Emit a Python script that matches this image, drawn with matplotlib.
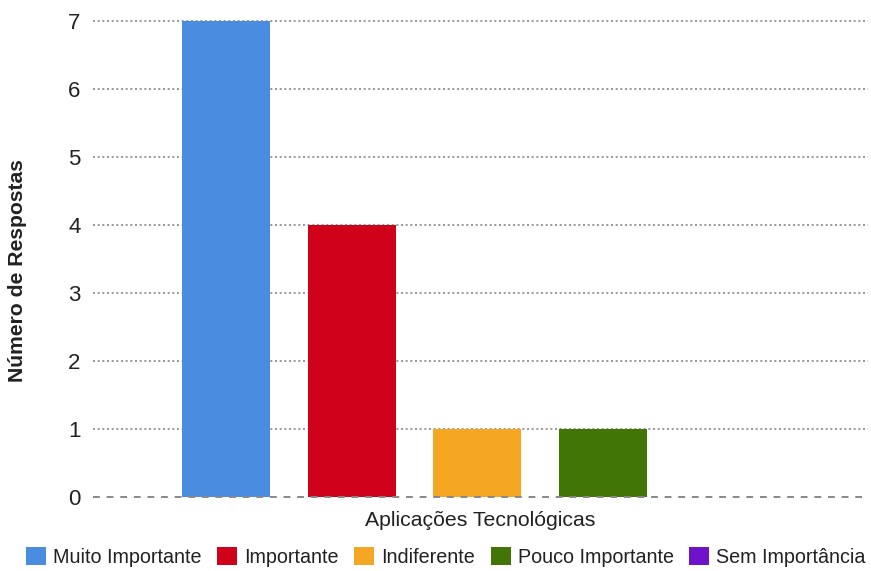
import matplotlib.pyplot as plt
from matplotlib.patches import Patch

plt.rcParams['font.family'] = ['Liberation Sans', 'DejaVu Sans']

categorias = ["Muito Importante", "Importante", "Indiferente", "Pouco Importante", "Sem Importância"]
respostas = [7, 4, 1, 1, 0]
cores = ["#4A8DE0", "#D0021B", "#F5A623", "#417505", "#6F12CC"]
yticks = [0, 1, 2, 3, 4, 5, 6, 7]

fig = plt.figure(figsize=(8.71, 5.71), dpi=100)
ax = fig.add_axes([93 / 871, 1 - 497 / 571, 775 / 871, 476 / 571])

pos = list(range(len(categorias)))
ax.bar(pos, respostas, width=0.70, color=cores, zorder=2)

# grid lines behind bars, dashed baseline on top
for v in yticks[1:]:
    ax.axhline(v, color="#888888", lw=1.2, ls=(0, (1.2, 1.6)), zorder=1, clip_on=False)
ax.axhline(0, color="#888888", lw=1.4, ls=(0, (3.5, 3.5)), zorder=3, clip_on=False)

ax.set_xlim(-1.058, 5.107)
ax.set_ylim(0, 7)
ax.set_yticks(yticks)
ax.set_xticks([])
ax.tick_params(axis="y", length=0, labelsize=16, pad=9, labelcolor="#222222")
for s in ax.spines.values():
    s.set_visible(False)

ax.set_ylabel("Número de Respostas", fontsize=15.2, fontweight="bold", color="#222222")
ax.yaxis.set_label_coords(-0.085, 0.475)
ax.set_xlabel("Aplicações Tecnológicas", fontsize=15.3, labelpad=10, color="#222222")

handles = [Patch(facecolor=c, edgecolor="none") for c in cores]
fig.legend(handles, categorias, loc="center", bbox_to_anchor=(0.512, 1 - 557 / 571), ncol=5,
           frameon=False, fontsize=14.2, handlelength=1.0, handleheight=1.0,
           handletextpad=0.36, columnspacing=0.8, labelcolor="#222222")

fig.savefig("out.png", dpi=100)
